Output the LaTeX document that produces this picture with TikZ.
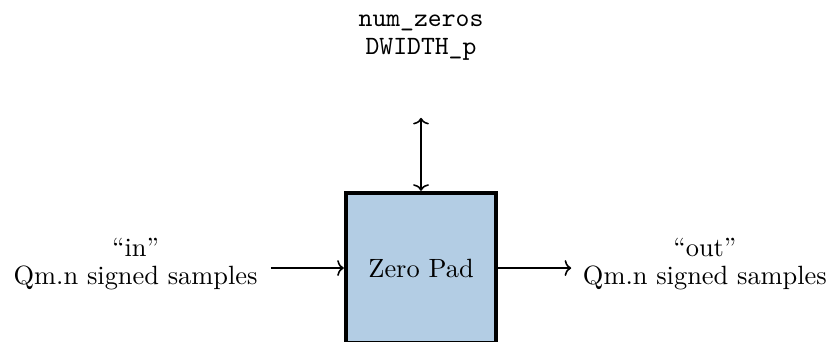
\documentclass[tikz,border=0pt]{standalone}
\usetikzlibrary{arrows.meta}
\definecolor{padfill}{RGB}{179,205,228}
\tikzset{
  block/.style={draw=black, line width=1.6pt, fill=padfill, minimum width=2cm, minimum height=2cm, inner sep=0pt},
  sig/.style={->, line width=0.6pt, >={To[length=2.5pt,width=6pt]}},
  bisig/.style={<->, line width=0.6pt, >={To[length=2.5pt,width=6pt]}},
  lbl/.style={align=center, inner sep=0pt}
}
\begin{document}
\begin{tikzpicture}
\useasboundingbox (-5.606,-0.972) rectangle (5.459,3.569);
\clip (-5.606,-0.972) rectangle (5.459,3.569);
% processing block
\node[block] (pad) at (0,0) {Zero Pad};
% parameter port above the block
\coordinate (ptop) at (0,2);
\draw[bisig] (pad.north) -- (ptop);
\node[lbl] (params) at (0,3.07) {\texttt{num\_zeros}\\[-1.5pt]\texttt{DWIDTH\_p}};
% input side
\coordinate (inend) at (-2,0);
\draw[sig] (inend) -- (pad.west);
\node[lbl] (inlbl) at (-3.8,0.056) {``in''\\[-1.5pt]Qm.n signed samples};
% output side
\coordinate (outend) at (2,0);
\draw[sig] (pad.east) -- (outend);
\node[lbl] (outlbl) at (3.78,0.056) {``out''\\[-1.5pt]Qm.n signed samples};
\end{tikzpicture}
\end{document}
